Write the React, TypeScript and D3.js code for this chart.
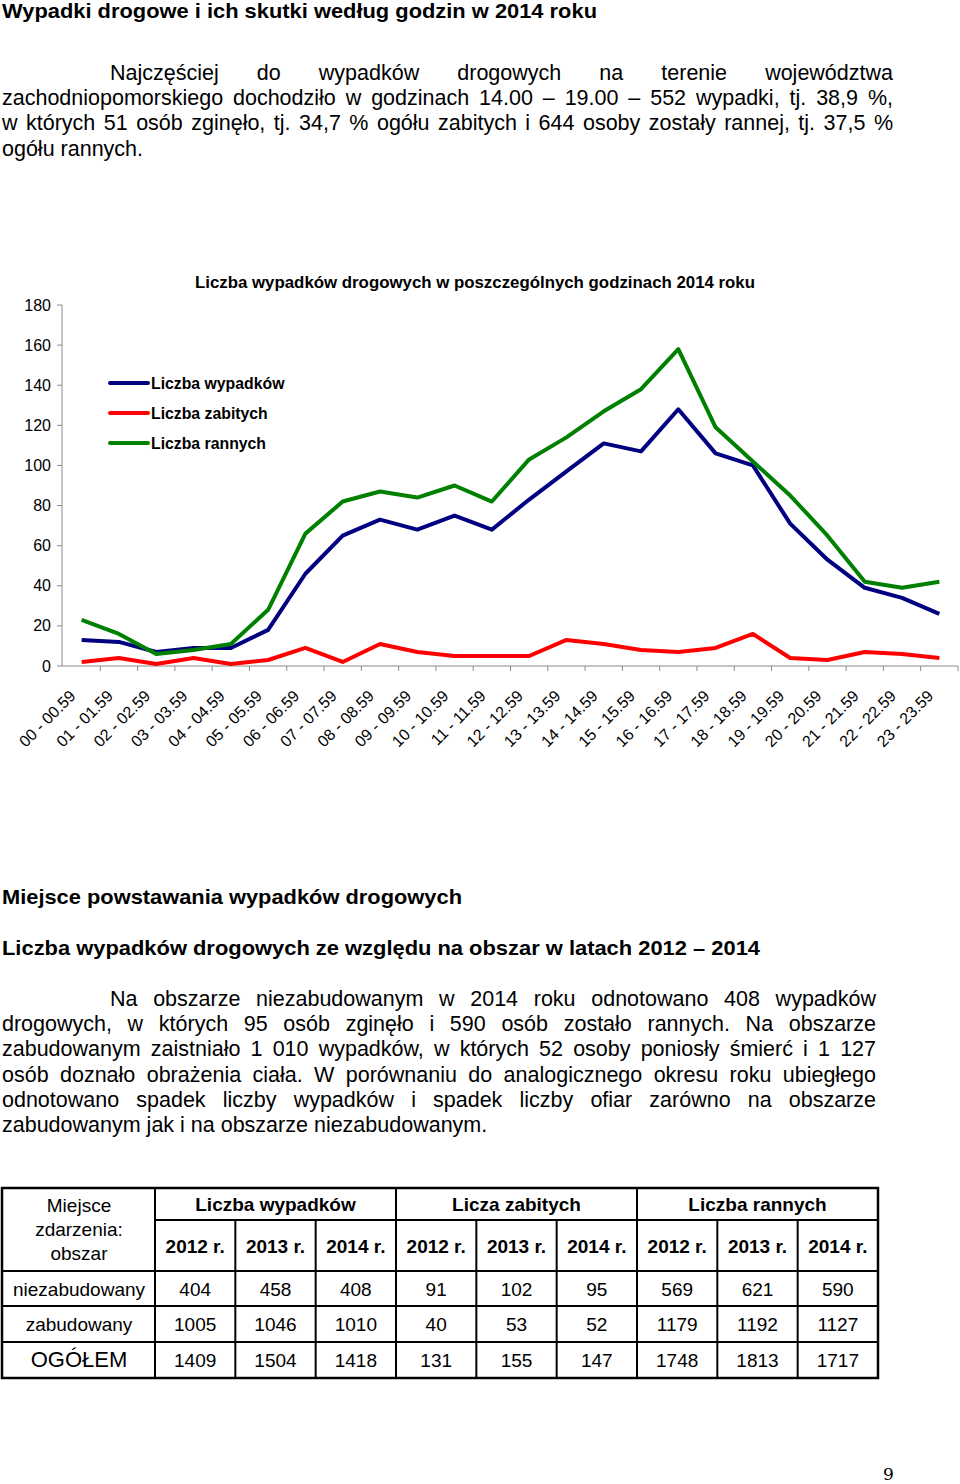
import * as d3 from "d3"

const FONT = "'Liberation Sans', Arial, sans-serif"

const HOURS = [
  "00 - 00.59", "01 - 01.59", "02 - 02.59", "03 - 03.59", "04 - 04.59", "05 - 05.59",
  "06 - 06.59", "07 - 07.59", "08 - 08.59", "09 - 09.59", "10 - 10.59", "11 - 11.59",
  "12 - 12.59", "13 - 13.59", "14 - 14.59", "15 - 15.59", "16 - 16.59", "17 - 17.59",
  "18 - 18.59", "19 - 19.59", "20 - 20.59", "21 - 21.59", "22 - 22.59", "23 - 23.59",
]
const ACCIDENTS = [13, 12, 7, 9, 9, 18, 46, 65, 73, 68, 75, 68, 83, 97, 111, 107, 128, 106, 100, 71, 53, 39, 34, 26]
const KILLED = [2, 4, 1, 4, 1, 3, 9, 2, 11, 7, 5, 5, 5, 13, 11, 8, 7, 9, 16, 4, 3, 7, 6, 4]
const INJURED = [23, 16, 6, 8, 11, 28, 66, 82, 87, 84, 90, 82, 103, 114, 127, 138, 158, 119, 102, 85, 65, 42, 39, 42]
const Y_TICKS = [0, 20, 40, 60, 80, 100, 120, 140, 160, 180]

const SERIES = [
  { name: "Liczba wypadków", values: ACCIDENTS, color: "#000080" },
  { name: "Liczba zabitych", values: KILLED, color: "#ff0000" },
  { name: "Liczba rannych", values: INJURED, color: "#008000" },
]

const PARA1 = [
  "Najczęściej do wypadków drogowych na terenie województwa",
  "zachodniopomorskiego dochodziło w godzinach 14.00 – 19.00 – 552 wypadki, tj. 38,9 %,",
  "w których 51 osób zginęło, tj. 34,7 % ogółu zabitych i 644 osoby zostały rannej, tj. 37,5 %",
  "ogółu rannych.",
]
const PARA2 = [
  "Na obszarze niezabudowanym w 2014 roku odnotowano 408 wypadków",
  "drogowych, w których 95 osób zginęło i 590 osób zostało rannych. Na obszarze",
  "zabudowanym zaistniało 1 010 wypadków, w których 52 osoby poniosły śmierć i 1 127",
  "osób doznało obrażenia ciała. W porównaniu do analogicznego okresu roku ubiegłego",
  "odnotowano spadek liczby wypadków i spadek liczby ofiar zarówno na obszarze",
  "zabudowanym jak i na obszarze niezabudowanym.",
]

const TABLE_GROUPS = ["Liczba wypadków", "Licza zabitych", "Liczba rannych"]
const TABLE_YEARS = ["2012 r.", "2013 r.", "2014 r."]
const AREAS = ["niezabudowany", "zabudowany", "OGÓŁEM"]
const ACCIDENTS_BY_AREA = [[404, 458, 408], [1005, 1046, 1010], [1409, 1504, 1418]]
const KILLED_BY_AREA = [[91, 102, 95], [40, 53, 52], [131, 155, 147]]
const INJURED_BY_AREA = [[569, 621, 590], [1179, 1192, 1127], [1748, 1813, 1717]]

const canvas = document.createElement("canvas")
const ctx = canvas.getContext("2d")
function measure(text: string, size: number, weight = "normal") {
  ctx.font = `${weight} ${size}px ${FONT}`
  return ctx.measureText(text).width
}

// one line of a justified paragraph, word by word
function JustLine({ text, x0, x1, y, size, justify }) {
  if (!justify) {
    return <text x={x0} y={y} fontSize={size}>{text}</text>
  }
  const words = text.split(" ")
  const ws = words.map((w) => measure(w, size))
  const total = d3.sum(ws)
  const minGap = size * 0.22
  let gap = (x1 - x0 - total) / (words.length - 1)
  let k = 1
  if (gap < minGap) {
    k = (x1 - x0 - minGap * (words.length - 1)) / total
    gap = minGap
  }
  let cx = x0
  return (
    <g>
      {words.map((w, i) => {
        const el = (
          <text key={i} x={cx} y={y} fontSize={size}
            textLength={k < 1 ? ws[i] * k : undefined}
            lengthAdjust="spacingAndGlyphs">{w}</text>
        )
        cx += ws[i] * k + gap
        return el
      })}
    </g>
  )
}

function Paragraph({ lines, top, step, left, indent, right, size }) {
  return (
    <g>
      {lines.map((t, i) => (
        <JustLine key={i} text={t} x0={i === 0 ? indent : left} x1={right}
          y={top + i * step} size={size} justify={i < lines.length - 1} />
      ))}
    </g>
  )
}

function Chart() {
  const x = d3.scaleBand().domain(HOURS).range([63, 958]).padding(0)
  const y = d3.scaleLinear().domain([0, 180]).range([666, 305])
  const cx = (i: number) => x(HOURS[i]) + x.bandwidth() / 2
  const line = d3.line<number>().x((d, i) => cx(i)).y((d) => y(d))
  const axisColor = "#8c8c8c"
  return (
    <g fontFamily={FONT}>
      <text x={475} y={288} textAnchor="middle" fontWeight={700} fontSize={16}
        textLength={560} lengthAdjust="spacingAndGlyphs">
        Liczba wypadków drogowych w poszczególnych godzinach 2014 roku
      </text>
      <line x1={62} x2={62} y1={y(180)} y2={y(0)} stroke={axisColor} />
      {Y_TICKS.map((t) => (
        <g key={t}>
          <line x1={57} x2={62} y1={y(t)} y2={y(t)} stroke={axisColor} />
          <text x={51} y={y(t) + 5.5} textAnchor="end" fontSize={16}>{t}</text>
        </g>
      ))}
      <line x1={62} x2={958} y1={y(0)} y2={y(0)} stroke={axisColor} />
      {HOURS.map((h) => (
        <line key={h} x1={x(h) + x.bandwidth()} x2={x(h) + x.bandwidth()}
          y1={y(0)} y2={y(0) + 5} stroke={axisColor} />
      ))}
      {HOURS.map((h, i) => (
        <text key={h} transform={`translate(${cx(i) - 5},${y(0) + 31}) rotate(-45)`}
          textAnchor="end" fontSize={16}>{h}</text>
      ))}
      {SERIES.map((s) => (
        <path key={s.name} d={line(s.values)} fill="none" stroke={s.color}
          strokeWidth={4} strokeLinejoin="round" />
      ))}
      {SERIES.map((s, i) => (
        <g key={s.name} transform={`translate(110,${383 + i * 30})`}>
          <line x1={0} x2={38} y1={0} y2={0} stroke={s.color} strokeWidth={4} strokeLinecap="round" />
          <text x={41} y={6} fontSize={15.8} fontWeight={700}>{s.name}</text>
        </g>
      ))}
    </g>
  )
}

function Table() {
  const rowEdges = [1188, 1220, 1271, 1306, 1342, 1378]
  const cols = d3.range(9)
  const col = d3.scaleBand<number>().domain(cols).range([155, 878])
  const left = 2
  const values = AREAS.map((_, r) => [
    ...ACCIDENTS_BY_AREA[r], ...KILLED_BY_AREA[r], ...INJURED_BY_AREA[r],
  ])
  const mid = (a: number, b: number) => (a + b) / 2
  return (
    <g fontFamily={FONT} fontSize={19}>
      {["Miejsce", "zdarzenia:", "obszar"].map((t, i) => (
        <text key={t} x={79} y={1212 + i * 24} textAnchor="middle">{t}</text>
      ))}
      {TABLE_GROUPS.map((g, i) => (
        <text key={g} x={col(i * 3) + col.bandwidth() * 1.5} y={1211}
          textAnchor="middle" fontWeight={700}>{g}</text>
      ))}
      {cols.map((c) => (
        <text key={c} x={col(c) + col.bandwidth() / 2} y={1253} textAnchor="middle"
          fontWeight={700}>{TABLE_YEARS[c % 3]}</text>
      ))}
      {AREAS.map((a, r) => (
        <g key={a}>
          <text x={79} y={mid(rowEdges[r + 2], rowEdges[r + 3]) + 7} textAnchor="middle"
            fontSize={r === 2 ? 22 : 19}>{a}</text>
          {values[r].map((v, c) => (
            <text key={c} x={col(c) + col.bandwidth() / 2}
              y={mid(rowEdges[r + 2], rowEdges[r + 3]) + 7} textAnchor="middle">{v}</text>
          ))}
        </g>
      ))}
      <g stroke="#000" strokeWidth={2}>
        <rect x={left} y={rowEdges[0]} width={878 - left} height={rowEdges[5] - rowEdges[0]}
          fill="none" strokeWidth={2.5} />
        <line x1={155} x2={878} y1={rowEdges[1]} y2={rowEdges[1]} />
        {rowEdges.slice(2, 5).map((e) => (
          <line key={e} x1={left} x2={878} y1={e} y2={e} />
        ))}
        <line x1={155} x2={155} y1={rowEdges[0]} y2={rowEdges[5]} />
        {cols.slice(1).map((c) => (
          <line key={c} x1={col(c)} x2={col(c)}
            y1={c % 3 === 0 ? rowEdges[0] : rowEdges[1]} y2={rowEdges[5]} />
        ))}
      </g>
    </g>
  )
}

export default function App() {
  return (
    <svg width={960} height={1484} viewBox="0 0 960 1484"
      style={{ position: "absolute", left: 0, top: 0, display: "block", background: "#fff" }}
      fontFamily={FONT}>
      <rect width={960} height={1484} fill="#fff" />
      <text x={2} y={18} fontSize={20.5} fontWeight={700} textLength={595}
        lengthAdjust="spacingAndGlyphs">
        Wypadki drogowe i ich skutki według godzin w 2014 roku
      </text>
      <Paragraph lines={PARA1} top={80} step={25.2} left={2} indent={110} right={893} size={21.5} />
      <Chart />
      <text x={2} y={904} fontSize={21} fontWeight={700} textLength={460}
        lengthAdjust="spacingAndGlyphs">Miejsce powstawania wypadków drogowych</text>
      <text x={2} y={955} fontSize={21} fontWeight={700} textLength={758}
        lengthAdjust="spacingAndGlyphs">
        Liczba wypadków drogowych ze względu na obszar w latach 2012 – 2014
      </text>
      <Paragraph lines={PARA2} top={1006} step={25.2} left={2} indent={110} right={876} size={21.5} />
      <Table />
      <text x={883} y={1480} fontSize={17} fontFamily="'DejaVu Serif', 'Liberation Serif', serif">9</text>
    </svg>
  )
}
